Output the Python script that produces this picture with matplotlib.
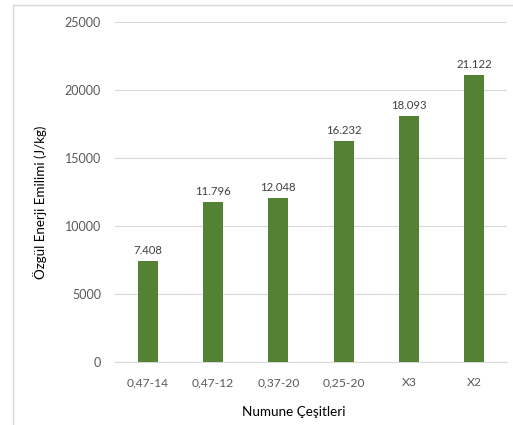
import matplotlib
matplotlib.use("Agg")
import matplotlib.pyplot as plt
from matplotlib.lines import Line2D

plt.rcParams["font.family"] = ["Lato", "DejaVu Sans"]

# Daten
categories = ["0,47-14", "0,47-12", "0,37-20", "0,25-20", "X3", "X2"]
values = [7408, 11796, 12048, 16232, 18093, 21122]
y_ticks = [0, 5000, 10000, 15000, 20000, 25000]

BAR_COLOR = "#548235"
TICK_COLOR = "#595959"
GRID_COLOR = "#d9d9d9"

fig = plt.figure(figsize=(5.13, 4.25), dpi=100)
ax = fig.add_axes([115 / 513, 1 - 362 / 425, 392 / 513, 340 / 425])

x = list(range(len(categories)))
bars = ax.bar(x, values, width=0.31, color=BAR_COLOR, zorder=3)

# Datenbeschriftung im tuerkischen Format (Punkt als Tausendertrenner)
for xi, v in zip(x, values):
    lbl = f"{v:,}".replace(",", ".")
    ax.text(xi, v + 350, lbl, ha="center", va="bottom",
            fontsize=8.2, color="#404040")

ax.set_xlim(-0.5, len(categories) - 0.5)
ax.set_ylim(0, 25000)
ax.set_yticks(y_ticks)
ax.set_yticklabels([str(t) for t in y_ticks])
ax.set_xticks(x)
ax.set_xticklabels(categories)

ax.grid(axis="y", color=GRID_COLOR, linewidth=0.8, zorder=0)
ax.tick_params(axis="both", length=0, colors=TICK_COLOR)
ax.tick_params(axis="y", pad=10, labelsize=9)
ax.tick_params(axis="x", pad=11, labelsize=8.7)
for side in ["top", "right", "left"]:
    ax.spines[side].set_visible(False)
ax.spines["bottom"].set_color(GRID_COLOR)
ax.spines["bottom"].set_linewidth(0.8)

fig.text(40 / 513, 1 - 202 / 425, "Özgül Enerji Emilimi (J/kg)",
         rotation=90, ha="center", va="center", fontsize=9.6, color="black")
fig.text(294 / 513, 1 - 412 / 425, "Numune Çeşitleri",
         ha="center", va="center", fontsize=9.7, color="black")

# Rahmen oben und links
fig.add_artist(Line2D([13 / 513, 13 / 513], [0, 1 - 5 / 425],
                      transform=fig.transFigure, color="#d9d9d9", linewidth=1))
fig.add_artist(Line2D([13 / 513, 1], [1 - 5 / 425, 1 - 5 / 425],
                      transform=fig.transFigure, color="#d9d9d9", linewidth=1))

fig.savefig("out.png", dpi=100)
plt.close(fig)
